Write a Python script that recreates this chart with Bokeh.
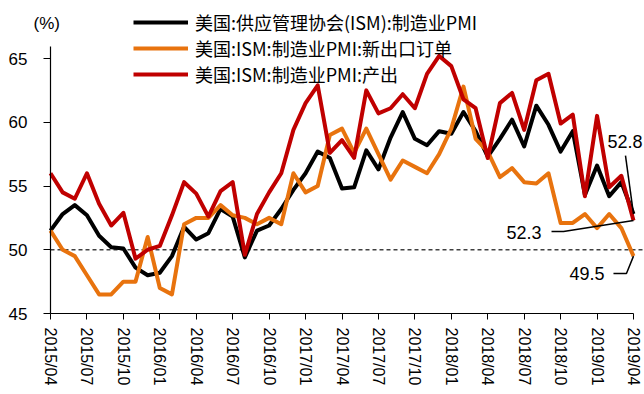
from bokeh.plotting import figure
from bokeh.models import (Range1d, FixedTicker, Label, Legend, LegendItem,
                          ColumnDataSource)
from bokeh.embed import file_html
from bokeh.resources import INLINE

months = ["2015/04", "2015/05", "2015/06", "2015/07", "2015/08", "2015/09", "2015/10", "2015/11", "2015/12",
          "2016/01", "2016/02", "2016/03", "2016/04", "2016/05", "2016/06", "2016/07", "2016/08", "2016/09",
          "2016/10", "2016/11", "2016/12",
          "2017/01", "2017/02", "2017/03", "2017/04", "2017/05", "2017/06", "2017/07", "2017/08", "2017/09",
          "2017/10", "2017/11", "2017/12",
          "2018/01", "2018/02", "2018/03", "2018/04", "2018/05", "2018/06", "2018/07", "2018/08", "2018/09",
          "2018/10", "2018/11", "2018/12",
          "2019/01", "2019/02", "2019/03", "2019/04"]

pmi = [51.5, 52.8, 53.5, 52.7, 51.1, 50.2, 50.1, 48.6, 48.0,
       48.2, 49.5, 51.8, 50.8, 51.3, 53.2, 52.6, 49.4, 51.5, 51.9, 53.2, 54.7,
       56.0, 57.7, 57.2, 54.8, 54.9, 57.8, 56.3, 58.8, 60.8, 58.7, 58.2, 59.3,
       59.1, 60.8, 59.3, 57.3, 58.7, 60.2, 58.1, 61.3, 59.8, 57.7, 59.3, 54.3,
       56.6, 54.2, 55.3, 52.8]

export_orders = [51.5, 50.0, 49.5, 48.0, 46.5, 46.5, 47.5, 47.5, 51.0,
                 47.0, 46.5, 52.0, 52.5, 52.5, 53.5, 52.7, 52.5, 52.0, 52.5, 52.0, 56.0,
                 54.5, 55.0, 59.0, 59.5, 57.6, 59.5, 57.5, 55.5, 57.0, 56.5, 56.0, 57.5,
                 59.5, 62.8, 58.7, 57.7, 55.7, 56.4, 55.3, 55.2, 56.0, 52.1, 52.1, 52.8,
                 51.7, 52.8, 51.7, 49.5]

production = [56.0, 54.5, 54.0, 56.0, 53.6, 51.9, 52.9, 49.3, 50.0,
              50.3, 52.7, 55.3, 54.4, 52.6, 54.6, 55.3, 49.6, 52.8, 54.5, 56.0, 59.4,
              61.5, 62.9, 57.6, 58.6, 57.2, 62.5, 60.7, 61.1, 62.2, 61.1, 63.8, 65.2,
              64.4, 61.8, 61.1, 57.2, 61.5, 62.3, 59.4, 63.3, 63.8, 59.9, 60.6, 54.2,
              60.5, 54.9, 55.8, 52.3]

series_names = ["美国:供应管理协会(ISM):制造业PMI",
                "美国:ISM:制造业PMI:新出口订单",
                "美国:ISM:制造业PMI:产出"]
series_colors = ["#000000", "#E8730E", "#C00000"]
y_ticks = [45, 50, 55, 60, 65]
y_min, y_max = 45, 65.94
tick_step = 3

idx = list(range(len(months)))
src = ColumnDataSource(dict(x=idx, pmi=pmi, exp=export_orders, prod=production))
last = idx[-1]

W, H = 644, 394
left_px, bottom_px = 50, 313          # axis origin on the canvas
px_month = (633 - left_px) / last
px_unit = (bottom_px - 58) / (65 - y_min)
x_range = Range1d(-left_px / px_month, (W - left_px) / px_month)
y_range = Range1d(y_min - (H - bottom_px) / px_unit, y_min + bottom_px / px_unit)

p = figure(width=W, height=H, output_backend="svg", toolbar_location=None,
           x_range=x_range, y_range=y_range,
           min_border_left=0, min_border_right=0, min_border_top=0, min_border_bottom=0)
p.title.visible = False
p.outline_line_color = None
p.grid.visible = False
p.background_fill_color = "white"
p.border_fill_color = "white"

# 50 reference line
p.line([0, x_range.end], [50, 50], line_color="#404040", line_width=1.5, line_dash="4 3")

renderers = []
for col, color in zip(["pmi", "exp", "prod"], series_colors):
    r = p.line(x="x", y=col, source=src, line_color=color, line_width=4, line_join="round")
    renderers.append(r)

legend = Legend(items=[LegendItem(label=n, renderers=[r]) for n, r in zip(series_names, renderers)],
                location=(133, 307), orientation="vertical", glyph_width=55, glyph_height=20,
                label_height=20, label_standoff=7, spacing=0, padding=0, margin=0,
                border_line_color=None, background_fill_alpha=0,
                label_text_font="Noto Sans CJK SC", label_text_font_size="18px",
                label_text_color="#000000")
p.add_layout(legend)

# axes
xa = p.xaxis[0]
xa.fixed_location = y_min
xa.bounds = (0, last)
xa.ticker = FixedTicker(ticks=idx[::tick_step])
xa.major_label_overrides = {i: months[i] for i in idx[::tick_step]}
xa.major_label_orientation = "vertical"
xa.major_label_text_font = "Liberation Sans"
xa.major_label_text_font_size = "16px"
xa.major_label_text_color = "#000000"
xa.major_label_standoff = 8
xa.minor_tick_line_color = None
xa.major_tick_in = 0
xa.major_tick_out = 6
xa.major_tick_line_color = "#000000"
xa.axis_line_color = "#000000"
xa.axis_line_width = 1.2

ya = p.yaxis[0]
ya.fixed_location = 0
ya.bounds = (y_min, y_max)
ya.ticker = FixedTicker(ticks=y_ticks)
ya.major_label_text_font = "Liberation Sans"
ya.major_label_text_font_size = "17px"
ya.major_label_text_color = "#000000"
ya.major_label_standoff = 16
ya.minor_tick_line_color = None
ya.major_tick_in = 0
ya.major_tick_out = 7
ya.major_tick_line_color = "#000000"
ya.axis_line_color = "#000000"
ya.axis_line_width = 1.2

# unit label
p.add_layout(Label(x=33, y=H - 23, x_units="screen", y_units="screen", text="(%)",
                   text_font="Liberation Sans", text_font_size="17px", text_baseline="middle",
                   text_color="#000000"))

# end-value annotations with leader lines
lp, le, lr = pmi[-1], export_orders[-1], production[-1]
p.line([last - 0.66, last], [lp + 4.59, lp], line_color="#000000", line_width=1.5)
p.line([last - 6.75, last - 5.76, last], [lr - 0.87, lr - 0.87, lr], line_color="#000000", line_width=1.5)
p.line([last - 1.65, last - 0.58, last], [le - 1.36, le - 1.36, le], line_color="#000000", line_width=1.5)

for val, xo, yo in [(lp, -26, 73), (lr, -127, -12), (le, -64, -17)]:
    p.add_layout(Label(x=last, y=val, x_offset=xo, y_offset=yo, text=f"{val:.1f}",
                       text_font="Liberation Sans", text_font_size="18px",
                       text_baseline="middle", text_align="left", text_color="#000000"))

open("out.html", "w").write(file_html(p, INLINE))
